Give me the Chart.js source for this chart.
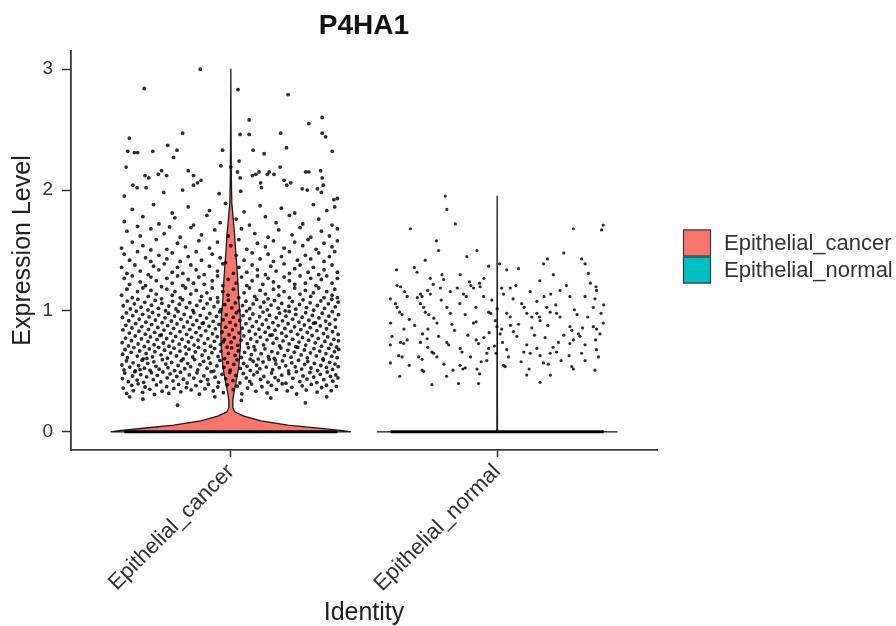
<!DOCTYPE html>
<html><head><meta charset="utf-8">
<script src="https://cdn.jsdelivr.net/npm/chart.js@4.4.1/dist/chart.umd.min.js"></script>
<style>html,body{margin:0;padding:0;background:#fff}</style>
</head><body>
<canvas id="c" width="896" height="626"></canvas>
<script>
// ---------- data ----------
const chartTitle = 'P4HA1';
const categories = ['Epithelial_cancer', 'Epithelial_normal'];
const yTickValues = [0, 1, 2, 3];

// violin outline: expression level vs half-width (category units)
const cancerViolinLevels = [0, 0.01, 0.028, 0.055, 0.09, 0.13, 0.165, 0.2, 0.26, 0.32, 0.4, 0.54, 0.7, 0.81, 0.95, 1.09, 1.25, 1.37, 1.5, 1.64, 1.78, 1.89, 2.1, 2.5, 3.0];
const cancerViolinHalfWidth = [0.45, 0.42, 0.338, 0.214, 0.113, 0.049, 0.015, 0.0075, 0.0075, 0.0113, 0.0188, 0.030, 0.0357, 0.0375, 0.0357, 0.030, 0.0263, 0.0225, 0.018, 0.0139, 0.0083, 0.0038, 0.0019, 0.0008, 0];
const normalViolinLevels = [0, 0.004, 0.02, 1.95];
const normalViolinHalfWidth = [0.45, 0.004, 0.001, 0];

// cells with zero expression: jitter span on the 0 line
const zeroJitterRange = [-0.40, 0.40];

// expressing cells: [jitter, expression level]
const cancerPoints = [
[-.325,2.84],[-.115,3.00],[.027,2.83],[.215,2.79],[.343,2.60],[.293,2.55],[.069,2.58],[-.181,2.47],[.035,2.46],[.069,2.46],[.187,2.47],[.343,2.47],[.356,2.44],[-.381,2.43],[.209,2.35],[-.387,2.32],[-.362,2.31],[-.35,2.31],[-.293,2.32],[-.237,2.37],[-.202,2.33],[-.031,2.33],[.084,2.33],[.125,2.30],[.381,2.32],[-.215,2.27],[.031,2.24],[-.393,2.19],[-.322,2.12],[-.308,2.10],[-.272,2.13],[-.26,2.16],[-.241,2.12],[-.16,2.16],[-.14,2.12],[-.125,2.06],[-.112,2.08],[-.037,2.20],[.0,2.19],[.025,2.15],[.035,2.10],[.081,2.12],[.094,2.13],[.106,2.15],[.137,2.13],[.144,2.15],[.162,2.13],[.185,2.19],[.225,2.06],[.281,2.15],[.293,2.15],[.337,2.16],[.343,2.10],[-.318,2.02],[-.40,1.95],[-.368,2.04],[-.352,2.02],[-.252,1.98],[-.181,2.00],[-.14,2.04],[-.044,1.97],[.037,1.99],[.112,2.06],[.115,2.02],[.20,2.08],[.21,2.04],[.268,2.01],[.287,2.00],[.325,2.01],[.347,2.04],[.34,1.98],[.387,1.92],[.40,1.93],
[-.37,1.84],[-.29,1.88],[-.22,1.81],[-.16,1.86],[-.08,1.83],[-.02,1.89],[.05,1.82],[.11,1.87],[.19,1.85],[.24,1.81],[.31,1.88],[.36,1.83],[.39,1.86],
[-.40,1.74],[-.33,1.78],[-.27,1.72],[-.21,1.77],[-.14,1.71],[-.09,1.79],[-.04,1.73],[.02,1.76],[.07,1.71],[.13,1.78],[.17,1.73],[.22,1.79],[.27,1.72],[.33,1.76],[.38,1.71],[-.35,1.70],
[-.39,1.66],[-.34,1.62],[-.30,1.68],[-.25,1.64],[-.19,1.61],[-.15,1.69],[-.11,1.63],[-.06,1.67],[-.01,1.62],[.04,1.68],[.09,1.64],[.14,1.61],[.18,1.67],[.23,1.63],[.26,1.69],[.30,1.61],[.34,1.66],[.37,1.62],[.40,1.68],[-.23,1.695],
[-.41,1.52],[-.37,1.57],[-.33,1.54],[-.28,1.59],[-.24,1.51],[-.20,1.56],[-.17,1.53],[-.12,1.58],[-.08,1.52],[-.05,1.57],[.00,1.54],[.03,1.59],[.06,1.51],[.10,1.56],[.13,1.53],[.16,1.58],[.20,1.52],[.24,1.57],[.27,1.54],[.29,1.59],[.32,1.51],[.35,1.56],[.38,1.53],[.40,1.58],[-.30,1.505],
[-.40,1.47],[-.38,1.42],[-.35,1.49],[-.32,1.44],[-.30,1.41],[-.27,1.46],[-.24,1.43],[-.22,1.48],[-.19,1.41],[-.16,1.45],[-.13,1.49],[-.11,1.42],[-.07,1.47],[-.04,1.44],[-.02,1.40],[.02,1.46],[.05,1.42],[.08,1.48],[.11,1.43],[.14,1.47],[.16,1.41],[.19,1.45],[.22,1.49],[.25,1.42],[.28,1.46],[.30,1.43],[.33,1.48],[.35,1.41],[.37,1.45],[.39,1.49],
[-.41,1.36],[-.39,1.31],[-.36,1.38],[-.34,1.33],[-.31,1.30],[-.29,1.37],[-.27,1.34],[-.25,1.39],[-.22,1.32],[-.20,1.36],[-.18,1.31],[-.15,1.38],[-.13,1.34],[-.10,1.30],[-.08,1.37],[-.05,1.33],[-.03,1.39],[.01,1.31],[.03,1.36],[.06,1.32],[.08,1.38],[.10,1.34],[.13,1.30],[.15,1.37],[.17,1.33],[.20,1.39],[.22,1.31],[.24,1.35],[.26,1.38],[.29,1.32],[.31,1.36],[.33,1.30],[.35,1.34],[.38,1.38],[.40,1.32],
[-.40,1.27],[-.38,1.22],[-.37,1.29],[-.34,1.24],[-.32,1.21],[-.30,1.28],[-.28,1.25],[-.26,1.20],[-.24,1.27],[-.22,1.23],[-.20,1.29],[-.18,1.21],[-.16,1.26],[-.14,1.23],[-.12,1.28],[-.10,1.22],[-.07,1.25],[-.05,1.29],[-.03,1.21],[-.01,1.26],[.02,1.23],[.04,1.28],[.06,1.21],[.08,1.25],[.10,1.29],[.12,1.22],[.14,1.27],[.16,1.24],[.18,1.20],[.20,1.28],[.22,1.25],[.24,1.22],[.26,1.29],[.28,1.23],[.30,1.27],[.32,1.21],[.34,1.26],[.36,1.29],[.38,1.23],[.40,1.27],
[-.41,1.13],[-.39,1.18],[-.37,1.11],[-.35,1.16],[-.33,1.19],[-.31,1.12],[-.30,1.17],[-.28,1.14],[-.26,1.10],[-.24,1.18],[-.22,1.13],[-.21,1.16],[-.19,1.11],[-.17,1.19],[-.15,1.14],[-.13,1.17],[-.11,1.12],[-.09,1.15],[-.07,1.19],[-.05,1.11],[-.03,1.16],[-.01,1.13],[.01,1.18],[.03,1.11],[.05,1.15],[.07,1.19],[.09,1.12],[.11,1.17],[.13,1.14],[.14,1.10],[.16,1.18],[.18,1.13],[.20,1.16],[.22,1.11],[.24,1.19],[.26,1.14],[.28,1.17],[.30,1.12],[.31,1.15],[.33,1.19],[.35,1.11],[.36,1.16],[.38,1.13],[.39,1.18],[.40,1.11],
[-.404,1.043],[-.389,1.082],[-.377,1.017],[-.362,1.059],[-.349,1.096],[-.337,1.031],[-.323,1.071],[-.311,1.008],[-.298,1.048],[-.284,1.087],[-.272,1.022],[-.259,1.063],[-.245,1.002],[-.233,1.041],[-.219,1.079],[-.206,1.016],[-.193,1.056],[-.181,1.093],[-.167,1.029],[-.154,1.068],[-.142,1.005],[-.128,1.046],[-.115,1.084],[-.102,1.021],[-.089,1.061],[-.077,1.099],[-.063,1.035],[-.049,1.074],[-.037,1.011],[-.023,1.052],[-.009,1.089],[.004,1.026],[.017,1.066],[.031,1.003],[.044,1.044],[.057,1.081],[.071,1.019],[.084,1.058],[.097,1.095],[.111,1.032],[.124,1.072],[.137,1.009],[.151,1.049],[.164,1.086],[.178,1.023],[.191,1.062],[.204,1.001],[.218,1.039],[.231,1.078],[.244,1.015],[.258,1.054],[.271,1.092],[.284,1.028],[.298,1.067],[.311,1.006],[.325,1.045],[.338,1.083],[.352,1.021],[.366,1.059],[.379,1.097],[.392,1.034],[.403,1.073],
[-.407,.946],[-.392,.984],[-.383,.919],[-.368,.961],[-.355,.998],[-.344,.933],[-.331,.972],[-.319,.907],[-.307,.951],[-.294,.989],[-.283,.925],[-.271,.966],[-.258,.903],[-.247,.943],[-.234,.981],[-.223,.917],[-.211,.958],[-.198,.995],[-.187,.931],[-.175,.971],[-.163,.909],[-.151,.949],[-.139,.987],[-.128,.922],[-.115,.963],[-.103,.901],[-.091,.941],[-.079,.979],[-.066,.914],[-.054,.955],[-.042,.993],[-.029,.928],[-.017,.968],[-.003,.905],[.009,.947],[.021,.985],[.034,.921],[.046,.962],[.059,.999],[.071,.936],[.083,.975],[.096,.912],[.108,.952],[.121,.991],[.133,.927],[.145,.965],[.158,.903],[.171,.944],[.183,.982],[.194,.918],[.207,.957],[.219,.996],[.232,.932],[.244,.971],[.256,.908],[.268,.948],[.281,.986],[.293,.923],[.306,.964],[.318,.902],[.331,.942],[.343,.981],[.356,.916],[.368,.956],[.381,.994],[.392,.929],[.404,.969],
[-.405,.843],[-.394,.881],[-.381,.817],[-.371,.859],[-.357,.896],[-.345,.832],[-.334,.871],[-.321,.808],[-.309,.848],[-.297,.887],[-.286,.823],[-.274,.864],[-.261,.801],[-.251,.842],[-.237,.879],[-.226,.815],[-.215,.856],[-.202,.893],[-.191,.829],[-.177,.868],[-.166,.806],[-.154,.847],[-.142,.885],[-.131,.821],[-.118,.861],[-.107,.898],[-.094,.836],[-.082,.874],[-.069,.811],[-.058,.852],[-.044,.889],[-.033,.826],[-.019,.866],[-.007,.803],[.006,.844],[.018,.883],[.031,.819],[.043,.858],[.057,.895],[.069,.833],[.081,.872],[.092,.809],[.106,.849],[.118,.888],[.129,.824],[.142,.863],[.155,.801],[.166,.841],[.178,.879],[.191,.816],[.203,.855],[.215,.894],[.226,.831],[.239,.869],[.251,.807],[.263,.846],[.276,.884],[.287,.822],[.298,.862],[.311,.899],[.323,.837],[.336,.876],[.348,.813],[.359,.853],[.371,.891],[.382,.828],[.393,.867],[.403,.806],
[-.408,.738],[-.395,.776],[-.384,.711],[-.373,.754],[-.359,.793],[-.348,.727],[-.336,.769],[-.325,.706],[-.311,.747],[-.302,.785],[-.288,.721],[-.277,.763],[-.266,.798],[-.253,.735],[-.241,.772],[-.232,.709],[-.218,.751],[-.207,.789],[-.194,.726],[-.183,.766],[-.171,.703],[-.159,.744],[-.147,.782],[-.138,.718],[-.123,.759],[-.112,.796],[-.099,.732],[-.086,.771],[-.076,.708],[-.062,.749],[-.051,.787],[-.039,.723],[-.024,.764],[-.014,.701],[.001,.741],[.013,.779],[.026,.716],[.038,.757],[.049,.794],[.062,.729],[.075,.768],[.087,.705],[.098,.746],[.111,.784],[.123,.719],[.136,.761],[.147,.799],[.159,.733],[.172,.774],[.183,.712],[.196,.752],[.208,.791],[.219,.727],[.232,.767],[.244,.704],[.256,.743],[.269,.781],[.281,.718],[.292,.758],[.305,.797],[.317,.736],[.328,.773],[.341,.709],[.353,.748],[.364,.786],[.376,.724],[.387,.765],[.397,.702],[.404,.753],[-.028,.745],
[-.406,.642],[-.397,.681],[-.388,.613],[-.374,.658],[-.364,.697],[-.351,.627],[-.342,.669],[-.329,.604],[-.318,.648],[-.306,.686],[-.294,.621],[-.285,.663],[-.271,.699],[-.262,.637],[-.249,.676],[-.238,.609],[-.226,.653],[-.213,.692],[-.204,.628],[-.191,.667],[-.179,.603],[-.168,.645],[-.157,.684],[-.143,.619],[-.133,.661],[-.121,.698],[-.108,.634],[-.097,.672],[-.083,.611],[-.071,.655],[-.061,.689],[-.048,.624],[-.037,.666],[-.023,.606],[-.009,.649],[.003,.694],[.016,.632],[.028,.671],[.039,.615],[.052,.657],[.066,.696],[.077,.638],[.091,.678],[.103,.602],[.114,.647],[.128,.687],[.141,.623],[.154,.664],[.163,.608],[.176,.652],[.188,.693],[.201,.631],[.214,.674],[.226,.617],[.238,.659],[.251,.698],[.264,.636],[.276,.677],[.287,.612],[.299,.654],[.312,.689],[.321,.629],[.334,.668],[.346,.605],[.357,.647],[.368,.691],[.379,.626],[.389,.663],[.399,.614],[.405,.682],[-.315,.607],[.073,.601],
[-.409,.553],[-.401,.512],[-.392,.587],[-.379,.536],[-.367,.571],[-.358,.504],[-.346,.548],[-.333,.593],[-.324,.527],[-.312,.566],[-.303,.509],[-.289,.579],[-.281,.542],[-.269,.518],[-.257,.597],[-.244,.561],[-.236,.531],[-.222,.574],[-.211,.506],[-.198,.549],[-.186,.588],[-.173,.522],[-.162,.565],[-.151,.539],[-.136,.598],[-.124,.513],[-.116,.556],[-.102,.583],[-.089,.527],[-.077,.568],[-.064,.503],[-.052,.545],[-.041,.591],[-.026,.534],[-.012,.572],[-.002,.511],[.011,.558],[.023,.596],[.036,.525],[.048,.567],[.061,.542],[.073,.508],[.084,.584],[.097,.551],[.109,.523],[.121,.578],[.133,.536],[.144,.599],[.157,.514],[.169,.562],[.182,.531],[.194,.587],[.206,.546],[.217,.505],[.229,.571],[.242,.538],[.254,.593],[.266,.519],[.277,.557],[.289,.582],[.301,.528],[.314,.566],[.326,.507],[.338,.549],[.347,.594],[.359,.533],[.371,.575],[.382,.516],[.391,.561],[.403,.539],[-.341,.515],[.167,.594],
[-.407,.441],[-.398,.486],[-.385,.415],[-.369,.462],[-.361,.497],[-.352,.428],[-.338,.473],[-.327,.409],[-.316,.455],[-.298,.489],[-.291,.432],[-.276,.468],[-.263,.413],[-.255,.495],[-.239,.447],[-.228,.479],[-.217,.421],[-.203,.458],[-.189,.493],[-.178,.436],[-.164,.404],[-.156,.471],[-.139,.445],[-.127,.488],[-.113,.418],[-.101,.463],[-.087,.431],[-.074,.498],[-.059,.452],[-.046,.409],[-.033,.476],[-.019,.439],[-.004,.491],[.008,.424],[.019,.467],[.034,.405],[.047,.483],[.058,.446],[.071,.417],[.086,.472],[.099,.494],[.112,.434],[.124,.458],[.139,.411],[.153,.487],[.166,.449],[.178,.425],[.191,.469],[.207,.402],[.218,.481],[.233,.443],[.246,.498],[.259,.416],[.271,.462],[.286,.437],[.297,.491],[.311,.453],[.323,.408],[.336,.476],[.349,.432],[.362,.495],[.374,.459],[.383,.419],[.394,.471],[.402,.446],
[-.404,.362],[-.391,.318],[-.372,.385],[-.366,.341],[-.348,.397],[-.331,.327],[-.322,.371],[-.304,.352],[-.287,.309],[-.279,.388],[-.258,.336],[-.241,.374],[-.233,.318],[-.214,.359],[-.196,.392],[-.188,.331],[-.167,.366],[-.149,.347],[-.131,.383],[-.118,.312],[-.097,.356],[-.084,.394],[-.066,.338],[-.049,.371],[-.028,.324],[-.013,.389],[.009,.349],[.024,.378],[.041,.315],[.063,.362],[.078,.395],[.094,.335],[.117,.373],[.136,.322],[.152,.384],[.171,.351],[.193,.398],[.212,.339],[.229,.368],[.247,.313],[.268,.381],[.283,.346],[.302,.392],[.324,.329],[.341,.367],[.359,.386],[.377,.341],[.396,.376],
[-.33,0.27],[-.20,0.22],[-.06,0.29],[.04,0.26],[.15,0.28],[.28,0.24],[.36,0.29],[-.38,0.29]
];

const normalPoints = [
[-.195,1.95],[-.189,1.84],[-.157,1.72],[-.326,1.68],[-.228,1.58],[-.22,1.50],[-.076,1.50],[-.114,1.45],[.286,1.68],[.398,1.71],[.392,1.67],[.189,1.43],[.317,1.43],[.174,1.39],[.009,1.39],[.036,1.34],[-.378,1.34],[-.311,1.36],[-.301,1.32],[-.251,1.27],[-.207,1.30],[-.201,1.26],[-.139,1.30],[-.104,1.24],[-.099,1.21],[-.066,1.23],[-.064,1.20],[-.032,1.37],[.211,1.30],[.342,1.31],
[-.376,1.21],[-.363,1.20],[-.348,1.16],[-.338,1.12],[-.288,1.14],[-.282,1.12],[-.261,1.17],[-.251,1.14],[-.213,1.19],[-.176,1.16],[-.126,1.14],[-.116,1.12],[-.089,1.19],[-.051,1.12],[.017,1.19],[.024,1.14],[.049,1.19],[.092,1.06],[.124,1.16],[.149,1.08],[.176,1.12],[.201,1.14],[.236,1.17],[.273,1.12],[.33,1.12],[.371,1.20],[.373,1.17],[.367,1.10],[.361,1.03],
[-.401,1.10],[-.382,1.06],[-.376,1.03],[-.366,0.99],[-.357,0.97],[-.288,1.06],[-.276,1.03],[-.27,0.99],[-.257,0.97],[-.238,0.94],[-.226,0.90],[-.189,1.03],[-.176,0.98],[-.12,0.97],[-.089,0.90],[-.079,0.91],[-.032,0.99],[-.024,0.98],[-.007,0.92],[-.001,0.87],[.011,0.81],[.017,0.85],[.036,0.98],[.049,0.95],[.061,0.83],[.074,0.79],[.101,1.03],[.111,0.98],[.149,0.98],[.159,0.95],[.161,0.92],[.186,1.03],[.199,0.99],[.223,0.98],[.236,0.95],[.273,0.87],[.28,0.84],[.305,0.81],[.311,0.79],[.361,0.87],[.373,0.85],[.398,0.90],[.386,0.81],
[-.401,0.72],[-.363,0.74],[-.351,0.73],[-.338,0.76],[-.288,0.74],[-.263,0.77],[-.261,0.70],[-.245,0.66],[-.189,0.74],[-.182,0.72],[-.139,0.69],[-.132,0.66],[-.079,0.76],[-.07,0.73],[-.039,0.65],[-.032,0.69],[-.004,0.65],[.036,0.68],[.042,0.62],[.111,0.72],[.124,0.65],[.149,0.69],[.161,0.63],[.199,0.65],[.223,0.66],[.23,0.74],[.273,0.73],[.286,0.76],[.317,0.65],[.33,0.59],[.373,0.68],[.38,0.62],
[-.401,0.57],[-.357,0.62],[-.295,0.62],[-.282,0.60],[-.282,0.51],[-.276,0.50],[-.238,0.65],[-.226,0.62],[-.166,0.51],[-.139,0.55],[-.129,0.52],[-.076,0.52],[-.066,0.48],[-.039,0.59],[.024,0.55],[.03,0.54],[.111,0.47],[.161,0.41],[.174,0.57],[.192,0.56],[.28,0.54],[.286,0.52],[.367,0.51],[-.366,0.46],[-.245,0.39],[-.145,0.40],[-.07,0.40],
[-.31,0.88],[-.16,0.84],[-.05,0.78],[.08,0.89],[.13,0.86],[.25,0.80],[.34,0.95],[-.22,0.79],[-.35,0.85],[.06,1.10],[-.14,1.06],[.29,1.01],[.21,0.70],[-.10,0.62],[.33,0.72],[-.26,0.85],[.00,1.02],[.18,0.78],[-.20,0.56],[.09,0.58],[.39,0.98],[-.40,0.90],[.12,0.52],[-.03,0.82],
[-.395,0.79],[-.33,0.93],[-.30,1.11],[-.24,1.22],[-.17,0.89],[-.15,1.19],[-.11,0.80],[-.08,1.03],[-.06,0.58],[-.02,1.09],[.02,0.74],[.05,0.88],[.07,1.21],[.10,0.66],[.14,0.80],[.16,1.25],[.19,0.88],[.22,1.05],[.24,0.59],[.26,1.21],[.30,0.97],[.32,0.86],[.35,1.23],[.37,0.76],[.40,1.05],[-.37,0.63],[-.28,0.81],[-.21,1.09],[-.12,0.53],[-.01,0.71],[.13,0.95],[.27,0.63],[-.33,0.55],[.20,0.47],[-.19,0.46],[.33,1.39],[-.05,1.27],[.08,1.35],[-.27,1.42],[.25,1.48]
];

// ---------- styles ----------
const FONT = "'Liberation Sans', Arial, Helvetica, sans-serif";
const fillColors = ['#F8766D', '#00BFC4'];
const inkColor = '#333333';
Chart.defaults.font.family = FONT;

const violins = [
  { levels: cancerViolinLevels, half: cancerViolinHalfWidth },
  { levels: normalViolinLevels, half: normalViolinHalfWidth }
];

const violinPlugin = {
  id: 'violins',
  beforeDatasetsDraw(chart) {
    const { ctx, chartArea, scales: { x, y } } = chart;
    ctx.save();
    ctx.beginPath();
    ctx.rect(chartArea.left, chartArea.top, chartArea.right - chartArea.left, chartArea.bottom - chartArea.top);
    ctx.clip();
    violins.forEach((v, i) => {
      const c = i + 1;
      ctx.beginPath();
      for (let k = 0; k < v.levels.length; k++) {
        const px = x.getPixelForValue(c + v.half[k]), py = y.getPixelForValue(v.levels[k]);
        if (k === 0) ctx.moveTo(px, py); else ctx.lineTo(px, py);
      }
      for (let k = v.levels.length - 1; k >= 0; k--) {
        ctx.lineTo(x.getPixelForValue(c - v.half[k]), y.getPixelForValue(v.levels[k]));
      }
      ctx.closePath();
      ctx.fillStyle = fillColors[i];
      ctx.fill();
      ctx.strokeStyle = '#1a1a1a';
      ctx.lineWidth = 1.3;
      ctx.lineJoin = 'round';
      ctx.stroke();
    });
    ctx.restore();
  }
};

const legendPlugin = {
  id: 'fillLegend',
  afterDraw(chart) {
    const { ctx } = chart;
    const x0 = 683, y0 = 229.5, w = 28, h = 27;
    ctx.save();
    categories.forEach((name, i) => {
      ctx.fillStyle = fillColors[i];
      ctx.fillRect(x0, y0 + i * h, w, h);
      ctx.strokeStyle = '#3a3a3a';
      ctx.lineWidth = 1.2;
      ctx.strokeRect(x0 + 0.5, y0 + i * h + 0.5, w - 1, h - 1);
      ctx.fillStyle = inkColor;
      ctx.font = '22px ' + FONT;
      ctx.textBaseline = 'middle';
      ctx.textAlign = 'left';
      ctx.fillText(name, 724, y0 + i * h + h / 2 + 1);
    });
    ctx.restore();
  }
};

const toXY = (pts, c) => pts.map(p => ({ x: c + p[0], y: p[1] }));
const zeroLine = c => zeroJitterRange.map(j => ({ x: c + j, y: 0 }));

const datasets = [
  { label: categories[0] + ' zero', data: zeroLine(1), showLine: true, borderColor: '#000', borderWidth: 3, pointRadius: 0 },
  { label: categories[1] + ' zero', data: zeroLine(2), showLine: true, borderColor: '#000', borderWidth: 3, pointRadius: 0 },
  { label: categories[0], data: toXY(cancerPoints, 1), pointRadius: 1.9, pointBackgroundColor: 'rgba(0,0,0,0.82)', pointBorderWidth: 0 },
  { label: categories[1], data: toXY(normalPoints, 2), pointRadius: 1.6, pointBackgroundColor: 'rgba(0,0,0,0.82)', pointBorderWidth: 0 }
];

new Chart(document.getElementById('c'), {
  type: 'scatter',
  data: { datasets },
  plugins: [violinPlugin, legendPlugin],
  options: {
    responsive: false,
    devicePixelRatio: 1,
    animation: false,
    events: [],
    layout: { padding: { left: 0, right: 239, top: 0, bottom: 0 } },
    plugins: {
      legend: { display: false },
      tooltip: { enabled: false },
      title: {
        display: true, text: chartTitle, fullSize: false,
        font: { size: 28, weight: 'bold', family: FONT }, color: '#111',
        padding: { top: 9, bottom: 8.4 }
      }
    },
    scales: {
      x: {
        type: 'linear', min: 0.4, max: 2.6,
        afterBuildTicks: s => { s.ticks = categories.map((c, i) => ({ value: i + 1 })); },
        afterFit: s => { s.height = 176; },
        ticks: {
          callback: v => categories[Math.round(v) - 1] || '',
          minRotation: 45, maxRotation: 45, autoSkip: false,
          font: { size: 22 }, color: inkColor, padding: 2
        },
        grid: { display: true, drawOnChartArea: false, drawTicks: true, tickLength: 7, tickColor: inkColor, tickWidth: 1.5 },
        border: { display: true, color: '#3a3a3a', width: 1.8 },
        title: { display: true, text: 'Identity', font: { size: 25, lineHeight: 1 }, color: '#222', padding: { top: 1, bottom: 0 } }
      },
      y: {
        type: 'linear', min: -0.15, max: 3.15,
        afterBuildTicks: s => { s.ticks = yTickValues.map(v => ({ value: v })); },
        afterFit: s => { s.width = 71; },
        ticks: { font: { size: 19 }, color: inkColor, padding: 9 },
        grid: { display: true, drawOnChartArea: false, drawTicks: true, tickLength: 9, tickColor: inkColor, tickWidth: 1.5 },
        border: { display: true, color: '#3a3a3a', width: 1.8 },
        title: { display: true, text: 'Expression Level', font: { size: 25 }, color: '#222', padding: { top: 8, bottom: 0 } }
      }
    }
  }
});
</script>
</body></html>
